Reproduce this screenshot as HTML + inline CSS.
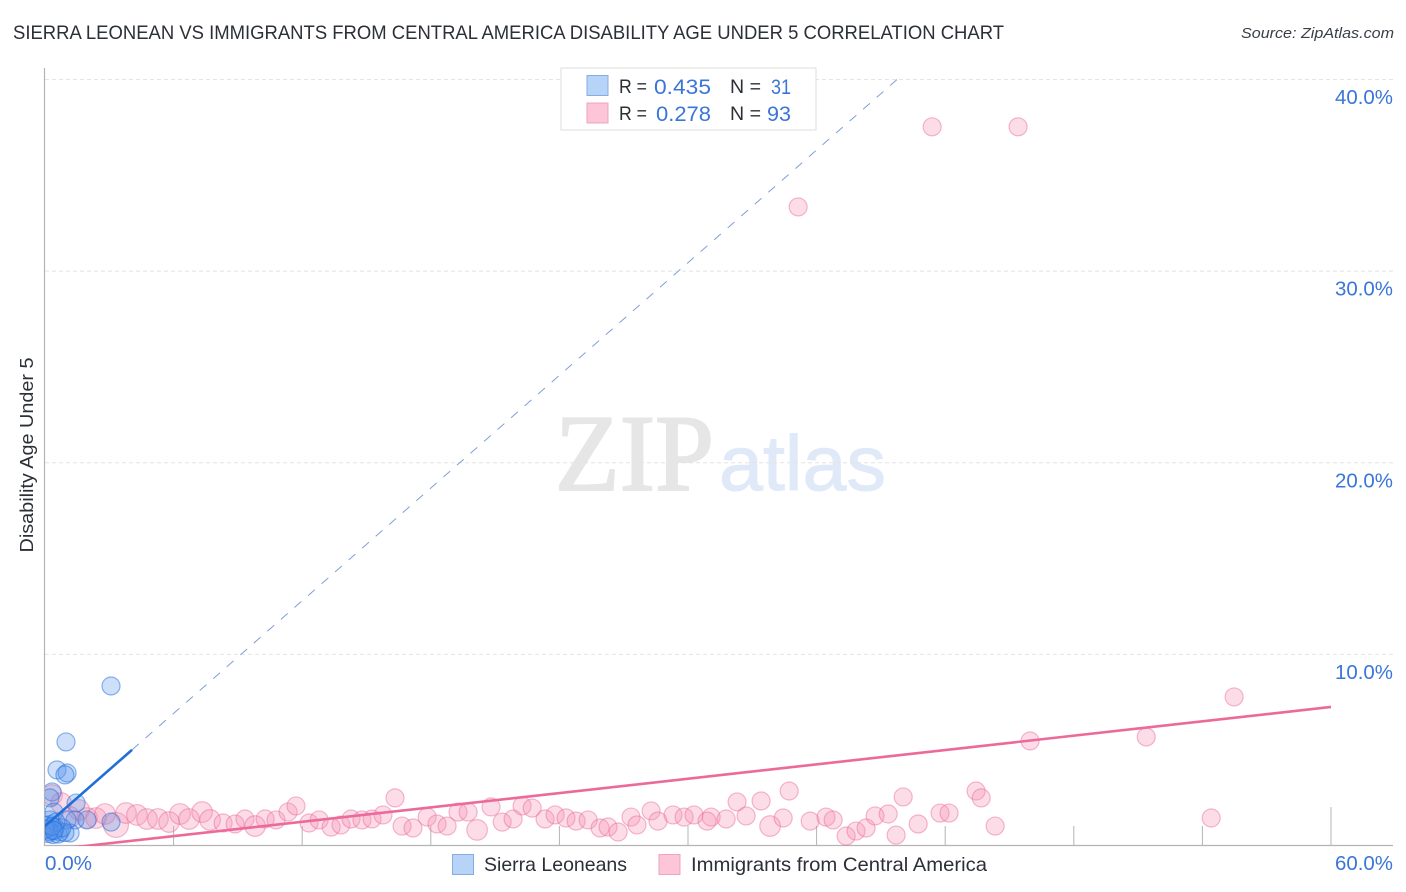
<!DOCTYPE html>
<html lang="en">
<head>
<meta charset="utf-8">
<title>Sierra Leonean vs Immigrants from Central America Disability Age Under 5 Correlation Chart</title>
<style>
html,body{margin:0;padding:0;background:#fff;width:1406px;height:892px;overflow:hidden}
svg{display:block;font-family:"Liberation Sans",sans-serif}
</style>
</head>
<body>
<svg id="chart" xmlns="http://www.w3.org/2000/svg" width="1406" height="892" viewBox="0 0 1406 892">
  <defs>
    <clipPath id="plot-clip"><rect x="45" y="68" width="1348" height="778"/></clipPath>
  </defs>
  <text x="13" y="39" font-size="19.5" fill="#2b2f36" textLength="991" lengthAdjust="spacingAndGlyphs">SIERRA LEONEAN VS IMMIGRANTS FROM CENTRAL AMERICA DISABILITY AGE UNDER 5 CORRELATION CHART</text>
  <text x="1394" y="38" font-size="15" font-style="italic" fill="#3a3f47" text-anchor="end" textLength="153" lengthAdjust="spacingAndGlyphs">Source: ZipAtlas.com</text>
  <g>
    <text x="555" y="490" font-family="'Liberation Serif',serif" font-size="109" fill="#e6e6e6" stroke="#e6e6e6" stroke-width="2" textLength="159" lengthAdjust="spacingAndGlyphs">ZIP</text>
    <text x="719" y="490" font-size="78" fill="#e0e9f8" stroke="#e0e9f8" stroke-width="1" textLength="167" lengthAdjust="spacingAndGlyphs">atlas</text>
  </g>
  <g id="grid"></g>
  <g id="axes"></g>
  <g id="points" clip-path="url(#plot-clip)"></g>
  <g id="trends" clip-path="url(#plot-clip)"></g>
  <g id="ticklabels"></g>
  <text transform="translate(33,455) rotate(-90)" font-size="18" fill="#2b2f36" text-anchor="middle" textLength="195" lengthAdjust="spacingAndGlyphs">Disability Age Under 5</text>

  <g>
    <rect x="561" y="68" width="255" height="62" fill="#fff" stroke="#dedede" stroke-width="1"/>
    <rect x="587" y="75.500" width="21" height="20" fill="#b7d3f7" stroke="#85ade3" stroke-width="1"/>
    <rect x="587" y="103" width="21" height="20" fill="#fcc5d8" stroke="#f0a4bf" stroke-width="1"/>
    <g font-size="19.500" fill="#2b2f36">
      <text x="619" y="93" textLength="28" lengthAdjust="spacingAndGlyphs">R =</text>
      <text x="730" y="93" textLength="31" lengthAdjust="spacingAndGlyphs">N =</text>
      <text x="619" y="120" textLength="28" lengthAdjust="spacingAndGlyphs">R =</text>
      <text x="730" y="120" textLength="31" lengthAdjust="spacingAndGlyphs">N =</text>
    </g>
    <g font-size="21" fill="#3a76d6">
      <text x="711" y="94" text-anchor="end" textLength="57" lengthAdjust="spacingAndGlyphs">0.435</text>
      <text x="791" y="94" text-anchor="end" textLength="20" lengthAdjust="spacingAndGlyphs">31</text>
      <text x="711" y="121" text-anchor="end" textLength="55" lengthAdjust="spacingAndGlyphs">0.278</text>
      <text x="791" y="121" text-anchor="end" textLength="24" lengthAdjust="spacingAndGlyphs">93</text>
    </g>
  </g>

  <g>
    <g>
      <rect x="452.500" y="854.500" width="21" height="20" fill="#b7d3f7" stroke="#85ade3" stroke-width="1"/>
      <text x="484" y="871" font-size="19.500" fill="#2b2f36" textLength="143" lengthAdjust="spacingAndGlyphs">Sierra Leoneans</text>
    </g>
    <g>
      <rect x="659" y="854.500" width="21" height="20" fill="#fcc5d8" stroke="#f0a4bf" stroke-width="1"/>
      <text x="691" y="871" font-size="19.500" fill="#2b2f36" textLength="296" lengthAdjust="spacingAndGlyphs">Immigrants from Central America</text>
    </g>
  </g>
</svg>
<script>
const yTicks = [10, 20, 30, 40];
const yTickLabels = ["10.0%", "20.0%", "30.0%", "40.0%"];
const xTicks = [6, 12, 18, 24, 30, 36, 42, 48, 54, 60];
const xEndLabels = ["0.0%", "60.0%"];
const xDomain = [0, 60];
const yDomain = [0, 40];

const pinkX = [0.33,0.75,1.17,1.59,1.96,2.38,2.80,3.31,3.78,4.29,4.76,5.27,5.79,6.30,6.72,7.33,7.70,
  8.31,8.87,9.33,9.80,10.27,10.78,11.34,11.71,12.32,12.79,13.35,13.81,14.28,14.79,15.26,15.77,16.33,16.66,17.17,
  17.83,18.29,18.76,19.27,19.74,20.16,20.81,21.33,21.84,22.26,22.73,23.33,23.80,24.31,24.78,25.34,25.90,26.27,26.74,
  27.34,27.62,28.28,28.60,29.30,29.82,30.28,31.08,30.89,31.78,32.29,32.71,33.41,33.83,34.44,34.72,35.70,36.44,36.77,
  37.38,37.84,38.31,38.73,39.34,40.04,39.71,40.74,41.76,42.18,43.44,43.68,44.33,45.96,51.38,54.41,55.48,35.14,41.39,45.40];
const pinkY = [2.66,2.24,1.51,1.88,1.46,1.46,1.67,1.10,1.72,1.62,1.41,1.41,1.25,1.67,1.41,1.77,1.36,
  1.20,1.15,1.41,1.04,1.41,1.36,1.77,2.09,1.20,1.36,0.99,1.10,1.41,1.36,1.41,1.62,2.51,1.04,0.94,
  1.51,1.15,1.04,1.77,1.77,0.84,2.04,1.25,1.41,2.09,1.98,1.41,1.62,1.46,1.30,1.36,0.94,0.99,0.73,
  1.51,1.10,1.83,1.30,1.62,1.51,1.62,1.51,1.30,1.41,2.30,1.57,2.35,1.04,1.46,2.87,1.30,1.51,1.36,
  0.52,0.78,0.94,1.57,1.67,2.56,0.57,1.15,1.72,1.72,2.87,2.51,1.04,5.48,5.69,1.46,7.78,33.35,37.53,37.53];
const pinkLargeSamples = [0.33,0.75,1.17,1.59,1.96,2.38,2.80,3.78,4.29,4.76,5.27,5.79,6.30,6.72,7.33,7.70,9.80,20.16,33.83];
const pinkHugeSamples = [3.31];

const blueX = [3.08,0.98,0.56,1.03,0.93,0.33,0.23,1.45,0.42,1.96,3.08,1.40,1.17,1.03,
  0.09,0.23,0.33,0.14,0.47,0.70,0.37,0.61,0.93,0.79,0.23,0.05,0.51,0.19,0.00,0.33,0.42];
const blueY = [8.35,5.43,3.97,3.81,3.71,2.82,2.51,2.24,1.77,1.36,1.25,1.36,0.68,1.36,
  0.91,1.12,0.81,0.65,0.97,0.73,0.60,0.62,0.70,0.95,1.36,1.07,1.25,0.76,0.86,1.02,0.81];

const pinkTrend = { intercept: -0.233, slope: 0.1248, from: 0, to: 60 };
const blueTrend = { intercept: 1.04, slope: 0.98, solidTo: 4.06, dashedTo: 39.8 };

const NS = "http://www.w3.org/2000/svg";
const plot = { left: 45, right: 1331, top: 79.5, bottom: 846 };
function sx(v) { return plot.left + (v - xDomain[0]) / (xDomain[1] - xDomain[0]) * (plot.right - plot.left); }
function sy(v) { return plot.bottom - (v - yDomain[0]) / (yDomain[1] - yDomain[0]) * (plot.bottom - plot.top); }
function mk(tag, attrs, parent) {
  const el = document.createElementNS(NS, tag);
  for (const k in attrs) el.setAttribute(k, attrs[k]);
  parent.appendChild(el);
  return el;
}
const grid = document.getElementById("grid");
const axes = document.getElementById("axes");
const points = document.getElementById("points");
const trends = document.getElementById("trends");
const labels = document.getElementById("ticklabels");

yTicks.forEach(function (t, i) {
  const line = mk("line", { x1: 45, x2: 1393, y1: sy(t), y2: sy(t), stroke: "#e4e4e4", "stroke-width": 1, "stroke-dasharray": "4 3" }, grid);
  
  
  const txt = mk("text", { x: 1393, y: sy(t) + 24.5, "font-size": 20, fill: "#3a76d6", "text-anchor": "end", textLength: 58, lengthAdjust: "spacingAndGlyphs" }, labels);
  txt.textContent = yTickLabels[i];
  
  
});

const yAxisLine = mk("line", { x1: 44.5, x2: 44.5, y1: 68, y2: 846, stroke: "#b4b4b4", "stroke-width": 1.2 }, axes);


const xAxisLine = mk("line", { x1: 44, x2: 1393, y1: 845.5, y2: 845.5, stroke: "#b4b4b4", "stroke-width": 1.2 }, axes);


xTicks.forEach(function (t, i) {
  const isLast = i === xTicks.length - 1;
  const tick = mk("line", { x1: sx(t), x2: sx(t), y1: isLast ? 807 : 826, y2: 846, stroke: "#b4b4b4", "stroke-width": 1 }, axes);
  
  
});

const xStart = mk("text", { x: 45, y: 870, "font-size": 20, fill: "#3a76d6", textLength: 47, lengthAdjust: "spacingAndGlyphs" }, labels);
xStart.textContent = xEndLabels[0];


const xEnd = mk("text", { x: 1393, y: 870, "font-size": 20, fill: "#3a76d6", "text-anchor": "end", textLength: 58, lengthAdjust: "spacingAndGlyphs" }, labels);
xEnd.textContent = xEndLabels[1];



pinkX.forEach(function (x, i) {
  let radius = 9;
  if (pinkLargeSamples.indexOf(x) >= 0) radius = 10.3;
  if (pinkHugeSamples.indexOf(x) >= 0) radius = 12.5;
  const c = mk("circle", { cx: sx(x), cy: sy(pinkY[i]), r: radius, fill: "rgba(244,143,177,0.30)", stroke: "rgba(233,100,150,0.45)", "stroke-width": 1.2 }, points);
  
  
});
blueX.forEach(function (x, i) {
  const c = mk("circle", { cx: sx(x), cy: sy(blueY[i]), r: 9, fill: "rgba(90,150,235,0.30)", stroke: "rgba(30,110,220,0.50)", "stroke-width": 1.2 }, points);
  
  
});

const blueDashed = mk("line", {
  x1: sx(blueTrend.solidTo), y1: sy(blueTrend.intercept + blueTrend.slope * blueTrend.solidTo),
  x2: sx(blueTrend.dashedTo), y2: sy(blueTrend.intercept + blueTrend.slope * blueTrend.dashedTo),
  stroke: "#7f9fd6", "stroke-width": 1, "stroke-dasharray": "9 9"
}, trends);


const blueSolid = mk("line", {
  x1: sx(0), y1: sy(blueTrend.intercept),
  x2: sx(blueTrend.solidTo), y2: sy(blueTrend.intercept + blueTrend.slope * blueTrend.solidTo),
  stroke: "#1f6fd8", "stroke-width": 2.6
}, trends);


const pinkLine = mk("line", {
  x1: sx(pinkTrend.from), y1: sy(pinkTrend.intercept + pinkTrend.slope * pinkTrend.from),
  x2: sx(pinkTrend.to), y2: sy(pinkTrend.intercept + pinkTrend.slope * pinkTrend.to),
  stroke: "#ec6a9a", "stroke-width": 2.6
}, trends);


</script>
</body>
</html>
